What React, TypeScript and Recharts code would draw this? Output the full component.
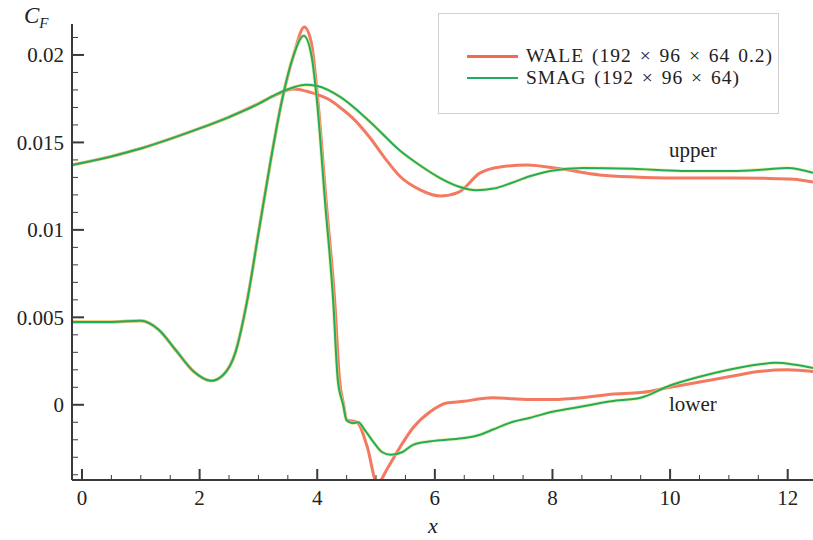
import { LineChart, Line, XAxis, YAxis } from 'recharts';

// WALE (192 x 96 x 64 0.2), upper surface
const waleUpperX = [-0.17, 0.5, 1, 1.5, 2, 2.5, 3, 3.3, 3.6, 3.9, 4.2, 4.4, 4.6, 4.9, 5.15, 5.41, 5.75, 6.09, 6.4, 6.77, 7.11, 7.57, 8.13, 8.8, 9.4, 9.95, 10.5, 11.07, 11.6, 12.1, 12.43];
const waleUpperY = [0.01371, 0.0142, 0.01465, 0.0152, 0.0158, 0.01645, 0.01722, 0.01772, 0.01806, 0.01785, 0.01745, 0.01697, 0.0164, 0.01525, 0.0141, 0.01305, 0.01229, 0.01194, 0.01215, 0.01326, 0.0136, 0.01371, 0.01349, 0.01314, 0.01302, 0.01297, 0.01297, 0.01297, 0.01295, 0.0129, 0.01274];

// WALE, lower surface
const waleLowerX = [-0.17, 0.5, 1, 1.3, 1.6, 1.9, 2.2, 2.4, 2.6, 2.8, 3, 3.2, 3.4, 3.6, 3.78, 3.9, 4.0, 4.15, 4.3, 4.38, 4.45, 4.5, 4.68, 4.85, 5.02, 5.2, 5.35, 5.63, 5.92, 6.2, 6.5, 6.77, 7, 7.33, 7.7, 8, 8.5, 9, 9.5, 10, 10.5, 11, 11.5, 12, 12.43];
const waleLowerY = [0.00474, 0.00474, 0.0048, 0.0043, 0.0031, 0.0019, 0.00137, 0.0017, 0.0029, 0.0058, 0.0098, 0.0138, 0.0174, 0.02, 0.0216, 0.0207, 0.0178, 0.0117, 0.0058, 0.0014, 0.0000, -0.00086, -0.001, -0.0024, -0.0045, -0.0036, -0.00274, -0.00131, -0.0004, 0.0001, 0.0002, 0.00034, 0.0004, 0.00034, 0.0003, 0.0003, 0.0004, 0.0006, 0.0007, 0.001, 0.0013, 0.0016, 0.0019, 0.002, 0.0019];

// SMAG (192 x 96 x 64), upper surface
const smagUpperX = [-0.17, 0.5, 1, 1.5, 2, 2.5, 3, 3.3, 3.6, 3.8, 4.0, 4.39, 4.9, 5.41, 5.75, 6.09, 6.4, 6.7, 7.0, 7.3, 7.6, 7.96, 8.52, 9.37, 10.2, 11.07, 11.6, 12, 12.43];
const smagUpperY = [0.01371, 0.0142, 0.01465, 0.0152, 0.0158, 0.01645, 0.0172, 0.01775, 0.01815, 0.01829, 0.01822, 0.0176, 0.01617, 0.01452, 0.01368, 0.01296, 0.01248, 0.01227, 0.01236, 0.01268, 0.01305, 0.01337, 0.01354, 0.01349, 0.01337, 0.01337, 0.01345, 0.01354, 0.01326];

// SMAG, lower surface
const smagLowerX = [-0.17, 0.5, 1, 1.3, 1.6, 1.9, 2.2, 2.4, 2.6, 2.8, 3, 3.2, 3.4, 3.6, 3.77, 3.9, 4.0, 4.13, 4.27, 4.35, 4.44, 4.5, 4.6, 4.7, 4.8, 4.95, 5.1, 5.25, 5.45, 5.63, 5.9, 6.2, 6.5, 6.77, 7, 7.33, 7.62, 8, 8.5, 9, 9.5, 10, 10.5, 11, 11.5, 11.8, 12.1, 12.43];
const smagLowerY = [0.00474, 0.00474, 0.0048, 0.0043, 0.0031, 0.0019, 0.00137, 0.0017, 0.0029, 0.0058, 0.0098, 0.0138, 0.0174, 0.02, 0.0211, 0.02, 0.0172, 0.0117, 0.006, 0.0014, 0.0, -0.0009, -0.00105, -0.001, -0.0014, -0.0021, -0.0027, -0.00286, -0.0027, -0.00229, -0.0021, -0.002, -0.0019, -0.00171, -0.0014, -0.00097, -0.00074, -0.0004, -0.0001, 0.0002, 0.0004, 0.0011, 0.0016, 0.002, 0.0023, 0.0024, 0.0023, 0.0021];

const xTicks = [0, 0.5, 1, 1.5, 2, 2.5, 3, 3.5, 4, 4.5, 5, 5.5, 6, 6.5, 7, 7.5, 8, 8.5, 9, 9.5, 10, 10.5, 11, 11.5, 12];
const xLabels = [0, 2, 4, 6, 8, 10, 12];
const yTicks = [-0.004, -0.003, -0.002, -0.001, 0, 0.001, 0.002, 0.003, 0.004, 0.005, 0.006, 0.007, 0.008, 0.009, 0.01, 0.011, 0.012, 0.013, 0.014, 0.015, 0.016, 0.017, 0.018, 0.019, 0.02, 0.021];
const yLabels = ['0', '0.005', '0.01', '0.015', '0.02'];

const seriesNames = ['WALE (192 × 96 × 64 0.2)', 'SMAG (192 × 96 × 64)'];

const toPoints = (xs: number[], ys: number[]) => xs.map((x, i) => ({ x, y: ys[i] }));

const FONT = '"Liberation Serif", "DejaVu Serif", serif';
const AXIS = '#3a3a3a';
const RED = '#f26a4f';
const GREEN = '#20ad62';

function XTick(props: any) {
  const { x, y, payload } = props;
  const major = xLabels.includes(payload.value);
  return (
    <g>
      <line x1={x} x2={x} y1={y} y2={y - (major ? 11 : 5)} stroke={AXIS} strokeWidth={major ? 2 : 1} />
      {major && (
        <text x={x} y={y + 25} textAnchor="middle" fontFamily={FONT} fontSize={21} fill="#222">
          {payload.value}
        </text>
      )}
    </g>
  );
}

function YTick(props: any) {
  const { x, y, payload } = props;
  const label = String(Math.round(payload.value * 1000) / 1000);
  const major = yLabels.includes(label);
  return (
    <g>
      <line x1={x} x2={x + (major ? 12 : 6)} y1={y} y2={y} stroke={AXIS} strokeWidth={major ? 2 : 1} />
      {major && (
        <text x={x - 8} y={y} dy="0.35em" textAnchor="end" fontFamily={FONT} fontSize={21} fill="#222">
          {label}
        </text>
      )}
    </g>
  );
}

export default function App() {
  const waleUpper = toPoints(waleUpperX, waleUpperY);
  const waleLower = toPoints(waleLowerX, waleLowerY);
  const smagUpper = toPoints(smagUpperX, smagUpperY);
  const smagLower = toPoints(smagLowerX, smagLowerY);

  return (
    <div style={{ position: 'absolute', left: 0, top: 0, width: 813, height: 540, background: '#fff', fontFamily: FONT }}>
      <LineChart width={813} height={540} margin={{ top: 24, right: 0, bottom: 0, left: 0 }}>
        <XAxis
          type="number"
          dataKey="x"
          domain={[-0.17, 12.43]}
          ticks={xTicks}
          interval={0}
          allowDataOverflow
          height={60}
          tickSize={0}
          tickMargin={0}
          tickLine={false}
          axisLine={{ stroke: AXIS, strokeWidth: 2 }}
          tick={<XTick />}
        />
        <YAxis
          type="number"
          dataKey="y"
          domain={[-0.0043, 0.02177]}
          ticks={yTicks}
          interval={0}
          allowDataOverflow
          width={72}
          tickSize={0}
          tickMargin={0}
          tickLine={false}
          axisLine={{ stroke: AXIS, strokeWidth: 2 }}
          tick={<YTick />}
        />
        <Line data={waleUpper} dataKey="y" type="monotone" stroke={RED} strokeWidth={3} strokeOpacity={0.9} dot={false} isAnimationActive={false} />
        <Line data={waleLower} dataKey="y" type="monotone" stroke={RED} strokeWidth={3} strokeOpacity={0.9} dot={false} isAnimationActive={false} />
        <Line data={smagUpper} dataKey="y" type="monotone" stroke="#e8e36e" strokeWidth={3.6} strokeOpacity={0.6} dot={false} isAnimationActive={false} />
        <Line data={smagLower} dataKey="y" type="monotone" stroke="#e8e36e" strokeWidth={3.6} strokeOpacity={0.6} dot={false} isAnimationActive={false} />
        <Line data={smagUpper} dataKey="y" type="monotone" stroke={GREEN} strokeWidth={2} dot={false} isAnimationActive={false} />
        <Line data={smagLower} dataKey="y" type="monotone" stroke={GREEN} strokeWidth={2} dot={false} isAnimationActive={false} />
      </LineChart>

      {/* axis titles and curve labels */}
      <div style={{ position: 'absolute', left: 24, top: 3, fontSize: 23, fontStyle: 'italic', color: '#222', lineHeight: '26px' }}>
        C<sub style={{ fontSize: 15, fontStyle: 'italic', verticalAlign: -5 }}>F</sub>
      </div>
      <div style={{ position: 'absolute', left: 428, top: 513, fontSize: 22, fontStyle: 'italic', color: '#222' }}>x</div>
      <div style={{ position: 'absolute', left: 669, top: 138, fontSize: 21, color: '#222' }}>upper</div>
      <div style={{ position: 'absolute', left: 669, top: 392, fontSize: 21, color: '#222' }}>lower</div>

      {/* legend */}
      <div style={{ position: 'absolute', left: 438, top: 13, width: 339, height: 99, border: '1.5px solid #cfcfcf', background: '#fff' }}>
        {seriesNames.map((name, i) => (
          <div key={name} style={{ position: 'absolute', left: 28, top: 31 + i * 22, height: 22, lineHeight: '22px', display: 'flex', alignItems: 'center', whiteSpace: 'nowrap' }}>
            <span style={{ display: 'inline-block', width: 51, height: i === 0 ? 3 : 2, background: i === 0 ? RED : GREEN, marginRight: 8 }} />
            <span style={{ fontSize: 19.5, letterSpacing: 1, wordSpacing: 2, color: '#222' }}>{name}</span>
          </div>
        ))}
      </div>
    </div>
  );
}
